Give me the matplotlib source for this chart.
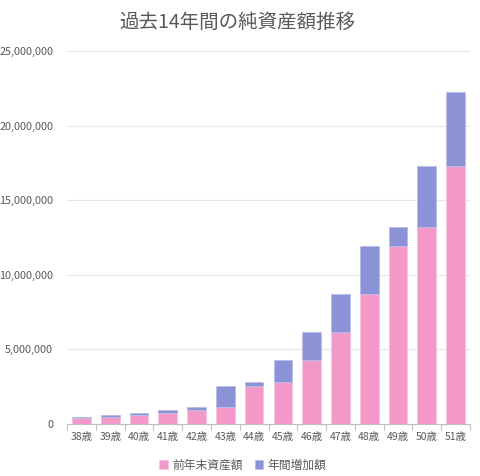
import matplotlib
matplotlib.use("Agg")
import matplotlib.pyplot as plt
import numpy as np
from matplotlib.ticker import FuncFormatter, FixedLocator

plt.rcParams['font.family'] = ['Noto Sans CJK JP', 'DejaVu Sans']

ages = ["38歳", "39歳", "40歳", "41歳", "42歳", "43歳", "44歳",
        "45歳", "46歳", "47歳", "48歳", "49歳", "50歳", "51歳"]
# 前年末資産額 (previous year-end assets)
prev_assets = [400000, 490000, 600000, 720000, 940000, 1120000, 2540000,
               2830000, 4270000, 6170000, 8700000, 11930000, 13200000, 17260000]
# 年末合計 (year-end totals)
totals = [490000, 600000, 720000, 940000, 1120000, 2540000, 2830000,
          4270000, 6170000, 8700000, 11930000, 13200000, 17260000, 22250000]
increase = [t - p for t, p in zip(totals, prev_assets)]

pink = "#F399C9"
purple = "#8B93D6"
grey = "#595959"

fig = plt.figure(figsize=(4.8, 4.76), dpi=100)
ax = fig.add_axes([67/480, 1 - 424/476, (470-67)/480, (424-51)/476])

x = np.arange(len(ages))
w = 0.65
ax.bar(x, prev_assets, w, color=pink, edgecolor="#f8c4df", linewidth=0.6,
       label="前年末資産額", zorder=3)
ax.bar(x, increase, w, bottom=prev_assets, color=purple, edgecolor="#b8bde8",
       linewidth=0.6, label="年間増加額", zorder=3)

ax.set_xlim(-0.5, len(ages) - 0.5)
ax.set_ylim(0, 25000000)
ax.set_yticks(np.arange(0, 25000001, 5000000))
ax.yaxis.set_major_formatter(FuncFormatter(lambda v, p: f"{int(v):,}"))
ax.grid(axis="y", color="#e6e6e6", linewidth=0.8, zorder=0)

ax.set_xticks(x)
ax.set_xticklabels(ages)
ax.xaxis.set_minor_locator(FixedLocator(np.arange(-0.5, len(ages), 1)))
ax.tick_params(axis="x", which="major", length=0, labelsize=7.5,
               labelcolor=grey, pad=6)
ax.tick_params(axis="x", which="minor", length=4, color="#bfbfbf", width=0.8)
ax.tick_params(axis="y", length=0, labelsize=7.8, labelcolor=grey, pad=10)

for s in ["top", "right", "left"]:
    ax.spines[s].set_visible(False)
ax.spines["bottom"].set_color("#bfbfbf")
ax.spines["bottom"].set_linewidth(0.8)

fig.text(237/480, 1 - 22/476, "過去14年間の純資産額推移", ha="center", va="center",
         fontsize=14, color=grey)

fig.legend(loc="center", bbox_to_anchor=(243/480, 1 - 465/476), ncol=2,
           frameon=False, fontsize=8.5, labelcolor=grey, handlelength=0.7,
           handleheight=0.7, columnspacing=1.0, handletextpad=0.4)

fig.savefig("out.png", dpi=100)
